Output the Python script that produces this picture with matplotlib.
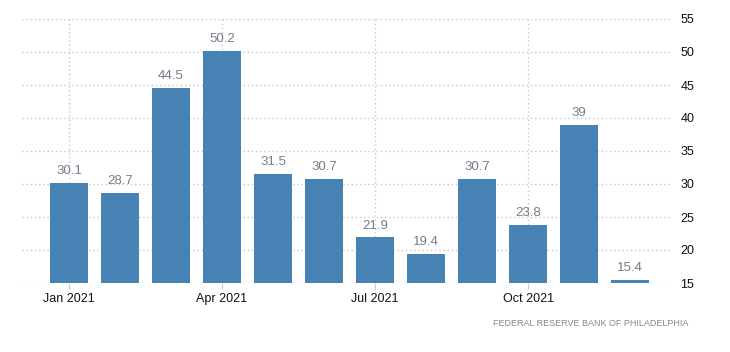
import matplotlib.pyplot as plt

months = ["Jan", "Feb", "Mar", "Apr", "May", "Jun", "Jul", "Aug", "Sep", "Oct", "Nov", "Dec"]
values = [30.1, 28.7, 44.5, 50.2, 31.5, 30.7, 21.9, 19.4, 30.7, 23.8, 39, 15.4]
labels = ["30.1", "28.7", "44.5", "50.2", "31.5", "30.7", "21.9", "19.4", "30.7", "23.8", "39", "15.4"]
tick_pos = [0, 3, 6, 9]
tick_labels = ["Jan 2021", "Apr 2021", "Jul 2021", "Oct 2021"]
yticks = [15, 20, 25, 30, 35, 40, 45, 50, 55]

plt.rcParams['font.family'] = ['Liberation Sans', 'DejaVu Sans']

fig = plt.figure(figsize=(7.3, 3.52), dpi=100)
ax = fig.add_axes([22 / 730, 1 - 283 / 352, 650 / 730, 264 / 352])

x = list(range(len(values)))
ax.bar(x, [v - 15 for v in values], bottom=15, width=0.75, color="#4682b4", zorder=3)

for xi, v, lab in zip(x, values, labels):
    ax.text(xi, v + 0.9, lab, ha="center", va="bottom", fontsize=9.5, color="#7a7a8a")

ax.set_xlim(-0.92, 11.82)
ax.set_ylim(15, 55)
ax.set_xticks(tick_pos)
ax.set_xticklabels(tick_labels, fontsize=9, color="#111111")
ax.set_yticks(yticks)
ax.set_yticklabels([str(t) for t in yticks], fontsize=9, color="#111111")
ax.yaxis.tick_right()
ax.tick_params(axis="y", length=0, pad=6)
ax.tick_params(axis="x", length=4, color="#cccccc", pad=3)

ax.grid(True, linestyle=(0, (1, 2)), color="#c8c8c8", linewidth=1, zorder=0)
for s in ax.spines.values():
    s.set_visible(False)

fig.text(688 / 730, 1 - 324 / 352, "FEDERAL RESERVE BANK OF PHILADELPHIA", ha="right", va="center",
         fontsize=6.5, color="#888888")

plt.savefig("out.png", dpi=100)
